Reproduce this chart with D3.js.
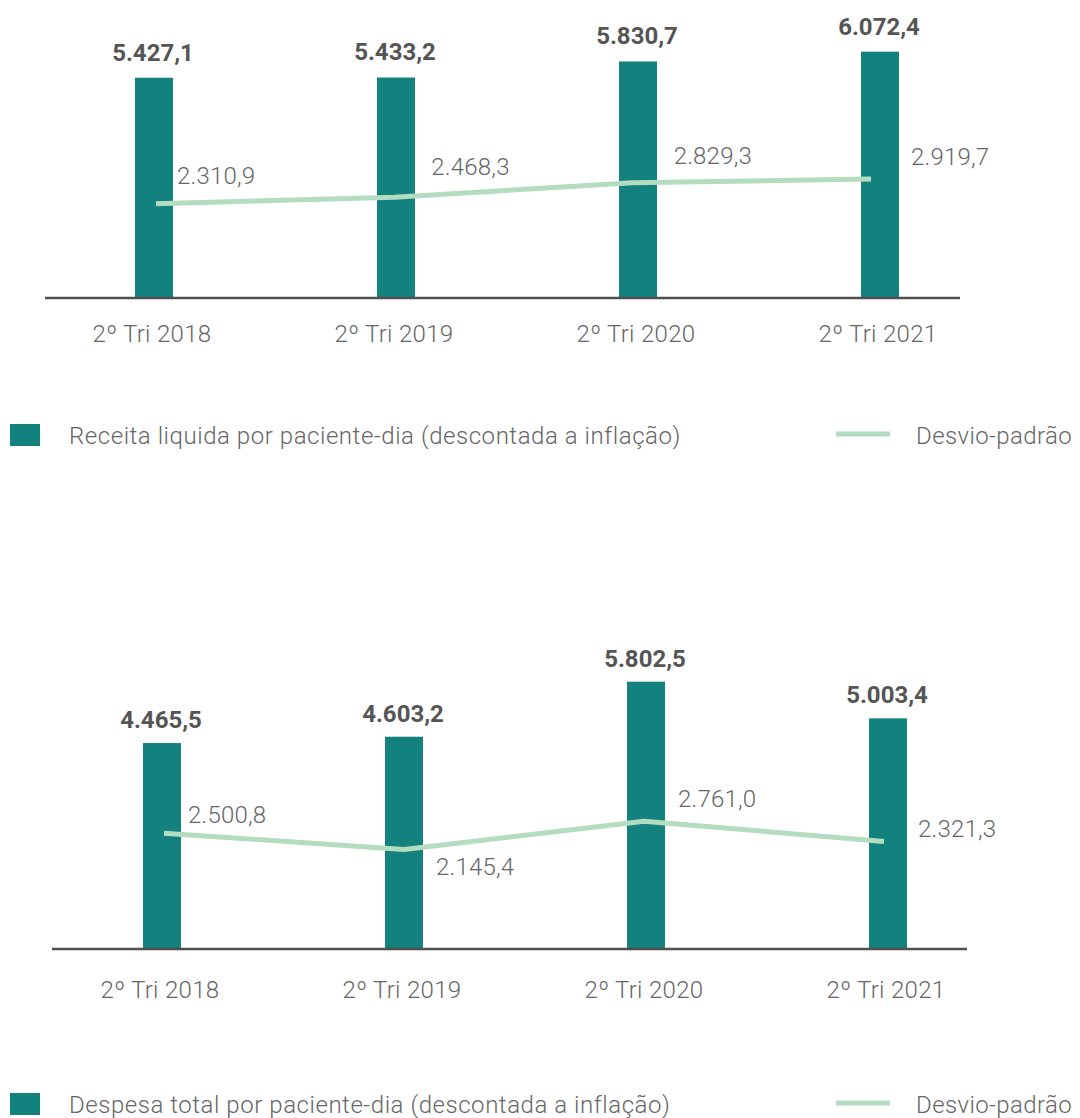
<!DOCTYPE html>
<html>
<head>
<meta charset="utf-8">
<script src="https://cdn.jsdelivr.net/npm/d3@7"></script>
<style>
  body { margin: 0; background: #fff; }
  svg { display: block; font-family: Roboto, "Open Sans", sans-serif; }
</style>
</head>
<body>
<svg width="1080" height="1118"></svg>
<script>
// data
var categories = ["2º Tri 2018", "2º Tri 2019", "2º Tri 2020", "2º Tri 2021"];

var receita = [5427.1, 5433.2, 5830.7, 6072.4];
var receitaDesvio = [2310.9, 2468.3, 2829.3, 2919.7];

var despesa = [4465.5, 4603.2, 5802.5, 5003.4];
var despesaDesvio = [2500.8, 2145.4, 2761.0, 2321.3];

var legendBar1 = "Receita liquida por paciente-dia (descontada a inflação)";
var legendBar2 = "Despesa total por paciente-dia (descontada a inflação)";
var legendLine = "Desvio-padrão";

var barColor = "#13827f",
    lineColor = "#b4dcc0",
    axisColor = "#505050",
    textColor = "#666",
    boldColor = "#555";

var svg = d3.select("svg");

var fmt = d3.formatLocale({ decimal: ",", thousands: ".", grouping: [3], currency: ["", ""] }).format(",.1f");

function drawChart(o) {
  var g = svg.append("g");

  var x = d3.scalePoint().domain(categories).range(o.barRange);
  var xl = d3.scalePoint().domain(categories).range(o.lineRange);
  var y = d3.scaleLinear().domain([0, o.yMax]).range([o.base, o.yTop]);
  var bw = 38;

  // bars
  g.selectAll("rect.bar")
    .data(o.bars)
    .enter().append("rect")
    .attr("class", "bar")
    .attr("x", function(d, i) { return x(categories[i]) - bw / 2; })
    .attr("y", function(d) { return y(d); })
    .attr("width", bw)
    .attr("height", function(d) { return o.base - y(d); })
    .attr("fill", barColor);

  // baseline
  g.append("line")
    .attr("x1", o.axisX[0]).attr("x2", o.axisX[1])
    .attr("y1", o.base + 1).attr("y2", o.base + 1)
    .attr("stroke", axisColor)
    .attr("stroke-width", 2.5);

  // category labels
  g.selectAll("text.cat")
    .data(categories)
    .enter().append("text")
    .attr("class", "cat")
    .attr("x", function(d) { return x(d) - 2; })
    .attr("y", o.base + o.catDy)
    .attr("text-anchor", "middle")
    .attr("font-size", 24)
    .attr("letter-spacing", 0.3)
    .attr("font-weight", 300)
    .attr("fill", textColor)
    .text(function(d) { return d; });

  // bar value labels
  g.selectAll("text.val")
    .data(o.bars)
    .enter().append("text")
    .attr("class", "val")
    .attr("x", function(d, i) { return x(categories[i]) - 1; })
    .attr("y", function(d) { return y(d) - o.valDy; })
    .attr("text-anchor", "middle")
    .attr("font-size", 24)
    .attr("font-weight", 700)
    .attr("fill", boldColor)
    .text(function(d) { return fmt(d); });

  // line
  var line = d3.line()
    .x(function(d, i) { return xl(categories[i]); })
    .y(function(d) { return y(d); });

  g.append("path")
    .datum(o.line)
    .attr("d", line)
    .attr("fill", "none")
    .attr("stroke", lineColor)
    .attr("stroke-width", 5)
    .attr("stroke-linejoin", "round");

  g.selectAll("text.lv")
    .data(o.line)
    .enter().append("text")
    .attr("class", "lv")
    .attr("x", function(d, i) { return xl(categories[i]) + o.nudge[i][0]; })
    .attr("y", function(d, i) { return y(d) + o.nudge[i][1]; })
    .attr("font-size", 24)
    .attr("letter-spacing", 0.2)
    .attr("font-weight", 300)
    .attr("fill", textColor)
    .text(function(d) { return fmt(d); });

  // legend
  var lg = g.append("g").attr("transform", "translate(0," + o.legendY + ")");
  lg.append("rect")
    .attr("x", 10).attr("y", -11)
    .attr("width", 30).attr("height", 22)
    .attr("fill", barColor);
  lg.append("text")
    .attr("x", 69).attr("y", 9)
    .attr("font-size", 24).attr("font-weight", 300)
    .attr("letter-spacing", 0.55)
    .attr("fill", textColor)
    .text(o.legendText);
  lg.append("line")
    .attr("x1", 836).attr("x2", 890)
    .attr("y1", -1).attr("y2", -1)
    .attr("stroke", lineColor)
    .attr("stroke-width", 5);
  lg.append("text")
    .attr("x", 916).attr("y", 9)
    .attr("font-size", 24).attr("font-weight", 300)
    .attr("letter-spacing", 0.4)
    .attr("fill", textColor)
    .text(legendLine);
}

drawChart({
  bars: receita, line: receitaDesvio,
  barRange: [154, 880], lineRange: [156, 871],
  axisX: [45, 960], base: 297,
  yMax: 7000, yTop: 297 - 7000 * 0.0404,
  catDy: 45, valDy: 17,
  nudge: [[21, -20], [37, -22], [41, -19], [40, -14]],
  legendY: 435, legendText: legendBar1
});

drawChart({
  bars: despesa, line: despesaDesvio,
  barRange: [162, 888], lineRange: [164, 884],
  axisX: [52, 967], base: 948,
  yMax: 6500, yTop: 948 - 6500 * 0.0459,
  catDy: 50, valDy: 15,
  nudge: [[24, -10], [32, 25], [34, -14], [34, -4]],
  legendY: 1104, legendText: legendBar2
});
</script>
</body>
</html>
